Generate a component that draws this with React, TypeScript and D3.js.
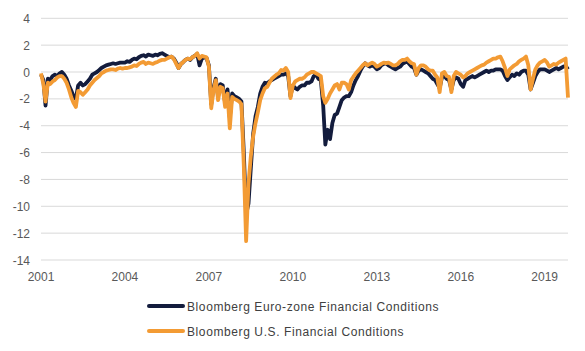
import React from "react";
import * as d3 from "d3";

// monthly readings, first point labelled 2001
const startYear = 2001;
const yTicks = [4, 2, 0, -2, -4, -6, -8, -10, -12, -14];
const xTickYears = [2001, 2004, 2007, 2010, 2013, 2016, 2019];

const euroZone = [
  -0.2, -0.6, -2.5, -0.5, -0.6, -0.3, -0.2, -0.3, -0.1, 0.0, -0.2, -0.5,
  -1.0, -1.4, -1.8, -2.0, -1.0, -0.8, -1.0, -0.9, -0.7, -0.5, -0.2, -0.1,
  0.0, 0.15, 0.3, 0.4, 0.5, 0.55, 0.6, 0.65, 0.6, 0.65, 0.7, 0.7,
  0.7, 0.8, 0.75, 0.9, 1.0, 0.95, 1.1, 1.2, 1.25, 1.15, 1.3, 1.25,
  1.2, 1.3, 1.25, 1.35, 1.4, 1.3, 1.2, 1.1, 1.15, 1.0, 0.7, 0.3,
  0.6, 0.75, 0.9, 1.0, 0.9, 1.1, 1.2, 1.35, 0.5, 1.0, 1.1, 1.05,
  0.5, -2.4, -1.2, -0.5, -1.8, -0.9, -1.0, -2.3, -1.3, -3.4, -1.6, -1.8,
  -1.9, -2.0, -2.2, -6.0, -10.6, -9.8, -7.2, -4.6, -3.3, -2.6, -1.6, -1.1,
  -0.8, -0.85, -0.7, -0.6, -0.5, -0.4, -0.3, -0.2, -0.2, -0.1, -0.3, -1.8,
  -1.0, -1.2, -1.3, -1.1, -1.0, -1.0, -0.8, -0.8, -0.7, -0.3, -0.2, -0.5,
  -0.6, -2.5, -5.4, -4.3, -5.0, -3.8, -3.2, -3.1, -2.6, -2.1, -1.9, -1.8,
  -1.8, -1.5, -1.0, -0.6, -0.3, 0.1, 0.4, 0.65, 0.5, 0.4, 0.5, 0.4,
  0.2, 0.3, 0.5, 0.6, 0.65, 0.5, 0.4, 0.3, 0.2, 0.3, 0.4, 0.6,
  0.7, 0.8, 0.6, 0.4, 0.3, -0.2, 0.1, 0.2, 0.1, 0.0, -0.1, -0.3,
  -0.5, -0.6, -0.9, -1.2, -0.4, -0.3, -0.5, -0.6, -1.3, -0.6, -0.4, -0.5,
  -0.9, -1.1, -0.6, -0.5, -0.4, -0.3, -0.4, -0.3, -0.2, -0.1, 0.0, 0.1,
  0.0, 0.1, 0.1, 0.2, 0.2, 0.2, 0.1, -0.3, -0.6, -0.4, -0.2, -0.3,
  -0.1, -0.2, 0.0, 0.1, 0.1, -0.2, -1.3, -0.8, -0.3, 0.0, 0.2, 0.2,
  0.2, 0.1, 0.0, 0.1, 0.2, 0.3, 0.2, 0.3, 0.4, 0.45, 0.2,
];

const usConditions = [
  -0.1, -0.9, -2.2, -0.8, -0.9, -0.7, -0.6, -0.4, -0.3, -0.3, -0.5, -0.8,
  -1.3, -1.9, -2.3, -2.6, -1.4, -1.5, -1.7, -1.5, -1.3, -1.0, -0.8, -0.6,
  -0.45, -0.3, -0.1, 0.0, 0.1, 0.15, 0.2, 0.2, 0.15, 0.25, 0.3, 0.25,
  0.3, 0.3, 0.35, 0.4, 0.5, 0.45, 0.6, 0.7, 0.75, 0.6, 0.7, 0.65,
  0.6, 0.7, 0.75, 0.85, 0.9, 0.9, 1.0, 1.1, 1.15, 0.95, 0.6, 0.3,
  0.6, 0.75, 0.9, 1.0, 0.95, 1.1, 1.2, 1.4, 1.0, 1.2, 1.15, 1.1,
  0.4, -2.7, -1.4, -0.6, -2.1, -1.1, -1.2, -2.6, -1.6, -4.2, -1.85, -2.0,
  -2.1, -2.2, -2.4, -7.0, -12.6, -8.3, -6.3, -4.8, -3.8, -3.0, -2.1, -1.6,
  -1.2, -1.1, -0.8, -0.5, -0.35, -0.2, -0.1, 0.15, 0.1, 0.3, 0.0, -1.95,
  -1.0, -0.7, -0.6, -0.5, -0.5, -0.4, -0.2, -0.1, 0.0, 0.0, -0.1, -0.2,
  -0.3, -1.8, -2.3, -2.0, -1.6, -1.3, -1.0, -0.9, -1.3, -0.8, -0.8, -0.9,
  -1.3, -0.6, -0.35, -0.1, 0.1, 0.3, 0.5, 0.65, 0.5, 0.6, 0.7, 0.6,
  0.4, 0.5, 0.6, 0.7, 0.65, 0.7, 0.6, 0.5, 0.5, 0.6, 0.8, 0.9,
  0.9, 1.0, 0.8, 0.65, 0.6, -0.2, 0.3, 0.5, 0.5, 0.4, 0.2, 0.1,
  0.1, -0.2, -0.4, -1.5, -0.1, 0.0, -0.3, -0.35, -1.5, -0.3, 0.0, -0.1,
  -0.2, -0.4, -0.3, -0.1, 0.0, 0.1, 0.2, 0.3, 0.4, 0.5, 0.55, 0.7,
  0.8, 0.9, 1.0, 1.0, 1.1, 1.15, 0.8, 0.3, -0.3, 0.2, 0.35, 0.5,
  0.6, 0.8, 0.9, 1.0, 1.15, 0.5, -1.3, -0.5, 0.2, 0.5, 0.7, 0.8,
  0.9, 0.7, 0.4, 0.5, 0.6, 0.55, 0.7, 0.8, 0.9, 1.0, -1.9,
];

const seriesNames = [
  "Bloomberg Euro-zone Financial Conditions",
  "Bloomberg U.S. Financial Conditions",
];
const seriesColors = ["#131c3d", "#f39b34"];

const W = 585;
const H = 351;
const font = "'Liberation Sans', Arial, sans-serif";

const monthDate = (i: number) => new Date(startYear, i, 1);

export default function App() {
  const x = d3
    .scaleTime()
    .domain([monthDate(0), monthDate(euroZone.length - 1)])
    .range([41, 568]);
  const y = d3.scaleLinear().domain([-14, 4]).range([260, 18.3]);

  const line = d3
    .line<number>()
    .x((_, i) => x(monthDate(i)))
    .y((d) => y(d));

  const series = [euroZone, usConditions];

  return (
    <svg
      width={W}
      height={H}
      style={{ position: "absolute", left: 0, top: 0, background: "#fff" }}
      fontFamily={font}
    >
      {yTicks.map((t) => (
        <g key={t}>
          <line x1={41} x2={568} y1={y(t)} y2={y(t)} stroke="#d9d9d9" strokeWidth={1} />
          <text x={30} y={y(t) + 4.5} textAnchor="end" fontSize={12} fill="#595959">
            {t}
          </text>
        </g>
      ))}
      {xTickYears.map((yr) => (
        <text
          key={yr}
          x={x(new Date(yr, 0, 1))}
          y={281}
          textAnchor="middle"
          fontSize={12}
          fill="#595959"
        >
          {yr}
        </text>
      ))}
      {series.map((s, k) => (
        <path
          key={k}
          d={line(s) ?? ""}
          fill="none"
          stroke={seriesColors[k]}
          strokeWidth={3.8}
          strokeLinejoin="round"
        />
      ))}
      {seriesNames.map((name, k) => (
        <g key={name} transform={`translate(0, ${306 + k * 25})`}>
          <line x1={149} x2={183} y1={0} y2={0} stroke={seriesColors[k]} strokeWidth={4} strokeLinecap="round" />
          <text x={187} y={4.5} fontSize={12} fill="#404040" letterSpacing={0.6}>
            {name}
          </text>
        </g>
      ))}
    </svg>
  );
}
